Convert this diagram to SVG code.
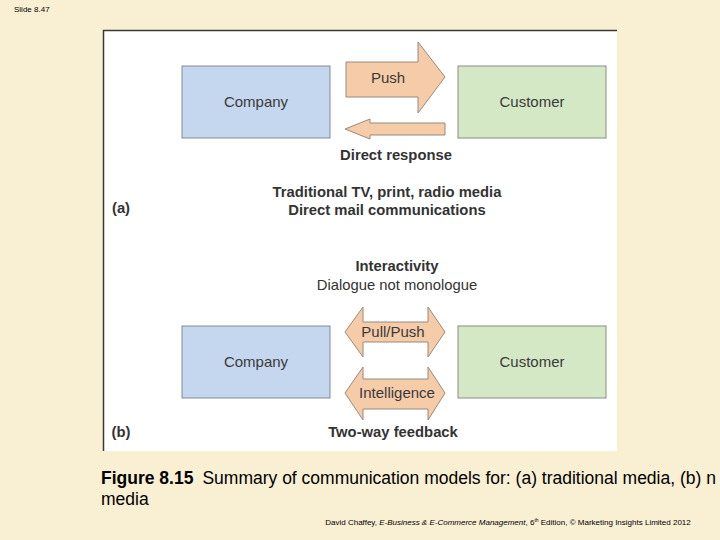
<svg xmlns="http://www.w3.org/2000/svg" width="720" height="540" viewBox="0 0 720 540">
<style>
text{font-family:"Liberation Sans",Arial,sans-serif}
.box-c{fill:#c4d7ee;stroke:#858b93;stroke-width:1}
.box-u{fill:#d5e8c6;stroke:#86907e;stroke-width:1}
.arr{fill:#f5cba8;stroke:#978a7f;stroke-width:1}
.lbl{font-size:15px;fill:#3a3a3a;text-anchor:middle}
.b{font-size:14.8px;font-weight:bold;fill:#333;text-anchor:middle}
.n{font-size:14.8px;fill:#333;text-anchor:middle}
</style>
<rect width="720" height="540" fill="#f9efd3"/>
<text x="14" y="12" font-size="8" fill="#000">Slide 8.47</text>
<g id="panel">
<rect x="103" y="30" width="514" height="421" fill="#ffffff"/>
<line x1="103" y1="30.5" x2="617" y2="30.5" stroke="#3b3a30" stroke-width="1.5"/>
<line x1="103.5" y1="30" x2="103.5" y2="451" stroke="#3b3a30" stroke-width="1.5"/>
</g>
<g id="connectors">
<g id="push">
<polygon class="arr" points="346,62 418,62 418,42 445,77 418,113 418,97 346,97"/>
<text class="lbl" x="388" y="83">Push</text>
</g>
<g id="response">
<polygon class="arr" points="445,123 370,123 370,119 345,129 370,139 370,135 445,135"/>
</g>
<g id="pullpush">
<polygon class="arr" points="345,332 363,307 363,322 428,322 428,307 445,332 428,357 428,342 363,342 363,357"/>
<text class="lbl" x="393" y="337">Pull/Push</text>
</g>
<g id="intelligence">
<polygon class="arr" points="345,393 363,367 363,379 428,379 428,367 445,393 428,420 428,409 363,409 363,420"/>
<text class="lbl" x="397" y="398">Intelligence</text>
</g>
</g>
<g id="company-a"><rect class="box-c" x="182" y="66" width="148" height="72"/><text class="lbl" x="256" y="107">Company</text></g>
<g id="customer-a"><rect class="box-u" x="458" y="66" width="148" height="72"/><text class="lbl" x="532" y="107">Customer</text></g>
<g id="company-b"><rect class="box-c" x="182" y="326" width="148" height="72"/><text class="lbl" x="256" y="367">Company</text></g>
<g id="customer-b"><rect class="box-u" x="458" y="326" width="148" height="72"/><text class="lbl" x="532" y="367">Customer</text></g>
<g id="labels">
<text class="b" x="396" y="160">Direct response</text>
<text class="b" x="387" y="197">Traditional TV, print, radio media</text>
<text class="b" x="387" y="215">Direct mail communications</text>
<text class="b" x="121" y="213">(a)</text>
<text class="b" x="397" y="271">Interactivity</text>
<text class="n" x="397" y="290">Dialogue not monologue</text>
<text class="b" x="121" y="437">(b)</text>
<text class="b" x="393" y="437">Two-way feedback</text>
</g>
<text x="101" y="484" font-size="17.5" fill="#000"><tspan font-weight="bold">Figure 8.15</tspan><tspan dx="9">Summary of communication models for: (a) traditional media, (b) n</tspan></text>
<text x="101" y="505" font-size="17.5" fill="#000">media</text>
<text x="508" y="525" font-size="8" fill="#000" text-anchor="middle">David Chaffey, <tspan font-style="italic">E-Business &amp; E-Commerce Management</tspan>, 6<tspan font-size="5" dy="-3">th</tspan><tspan dy="3"> Edition, © Marketing Insights Limited 2012</tspan></text>
</svg>
